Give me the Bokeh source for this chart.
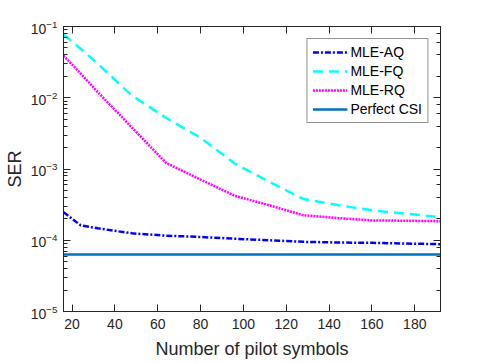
from bokeh.plotting import figure
from bokeh.models import Range1d, LinearAxis, LogAxis, SingleIntervalTicker, Legend, LegendItem
from bokeh.embed import file_html
from bokeh.resources import INLINE

# ---- data ----
pilots = [16, 24, 32, 48, 64, 80, 96, 112, 128, 144, 160, 176, 192]
ser_aq = [2.48e-4, 1.62e-4, 1.47e-4, 1.25e-4, 1.16e-4, 1.11e-4, 1.05e-4, 1.0e-4,
          9.5e-5, 9.3e-5, 9.2e-5, 9.0e-5, 8.8e-5]
ser_fq = [0.0772, 0.0487, 0.030, 0.0107, 0.0052, 0.00275, 0.00119, 0.00066,
          0.00038, 0.000312, 0.000263, 0.000236, 0.000211]
ser_rq = [0.039, 0.0219, 0.012, 0.0038, 0.00121, 0.00071, 0.00042, 0.00031,
          0.000224, 0.000205, 0.00019, 0.000188, 0.000185]
ser_csi = [6.3e-5] * len(pilots)
series_names = ["MLE-AQ", "MLE-FQ", "MLE-RQ", "Perfect CSI"]
x_label = "Number of pilot symbols"
y_label = "SER"

AX = "#262626"
FONT = "Liberation Sans"

p = figure(width=478, height=362, y_axis_type="log",
           x_range=Range1d(16, 192), y_range=Range1d(1e-5, 1e-1),
           output_backend="svg", toolbar_location=None,
           min_border_left=63, min_border_right=38,
           min_border_top=26, min_border_bottom=51)
p.background_fill_color = "white"
p.border_fill_color = "white"
p.outline_line_color = AX
p.outline_line_width = 1
p.xgrid.visible = False
p.ygrid.visible = False

p.xaxis.ticker = SingleIntervalTicker(interval=20)

def style_axis(ax, labels=True):
    ax.axis_line_color = AX
    ax.major_tick_line_color = AX
    ax.minor_tick_line_color = AX
    ax.major_tick_in = 7
    ax.major_tick_out = 0
    ax.minor_tick_in = 4
    ax.minor_tick_out = 0
    ax.major_label_text_color = AX if labels else None
    ax.major_label_text_font = FONT
    ax.major_label_text_font_size = "14px" if labels else "1px"
    ax.axis_label_text_font = FONT
    ax.axis_label_text_font_size = "18px"
    ax.axis_label_text_font_style = "normal"
    ax.axis_label_text_color = AX

for ax in p.xaxis:
    style_axis(ax)
    ax.minor_tick_line_color = None
    ax.major_label_standoff = 7
    ax.axis_label_standoff = 7
    ax.axis_label = x_label
for ax in p.yaxis:
    style_axis(ax)
    ax.major_label_standoff = 6
    ax.axis_label_standoff = 3
    ax.axis_label = y_label

top = LinearAxis(ticker=SingleIntervalTicker(interval=20))
style_axis(top, labels=False)
top.minor_tick_line_color = None
top.major_label_standoff = 0
p.add_layout(top, "above")

right = LogAxis()
style_axis(right, labels=False)
right.major_label_standoff = 0
p.add_layout(right, "right")

lw = 2.5
r_aq = p.line(pilots, ser_aq, line_color="#0000ff", line_width=lw, line_dash="6 2 2 2")
r_fq = p.line(pilots, ser_fq, line_color="#00ffff", line_width=lw, line_dash="10 6")
r_rq = p.line(pilots, ser_rq, line_color="#ff00ff", line_width=lw, line_dash="2 1")
r_csi = p.line(pilots, ser_csi, line_color="#0072bd", line_width=lw)

legend = Legend(items=[LegendItem(label=n, renderers=[r]) for n, r in
                       zip(series_names, [r_aq, r_fq, r_rq, r_csi])],
                location="top_right")
legend.margin = 12
legend.padding = 5
legend.spacing = 3
legend.glyph_width = 35
legend.glyph_height = 14
legend.label_height = 14
legend.label_standoff = 3
legend.label_text_font = FONT
legend.label_text_font_size = "14px"
legend.label_text_color = "black"
legend.border_line_color = AX
legend.border_line_width = 1
legend.background_fill_color = "white"
legend.background_fill_alpha = 1
p.add_layout(legend, "center")

open("out.html", "w").write(file_html(p, INLINE))
